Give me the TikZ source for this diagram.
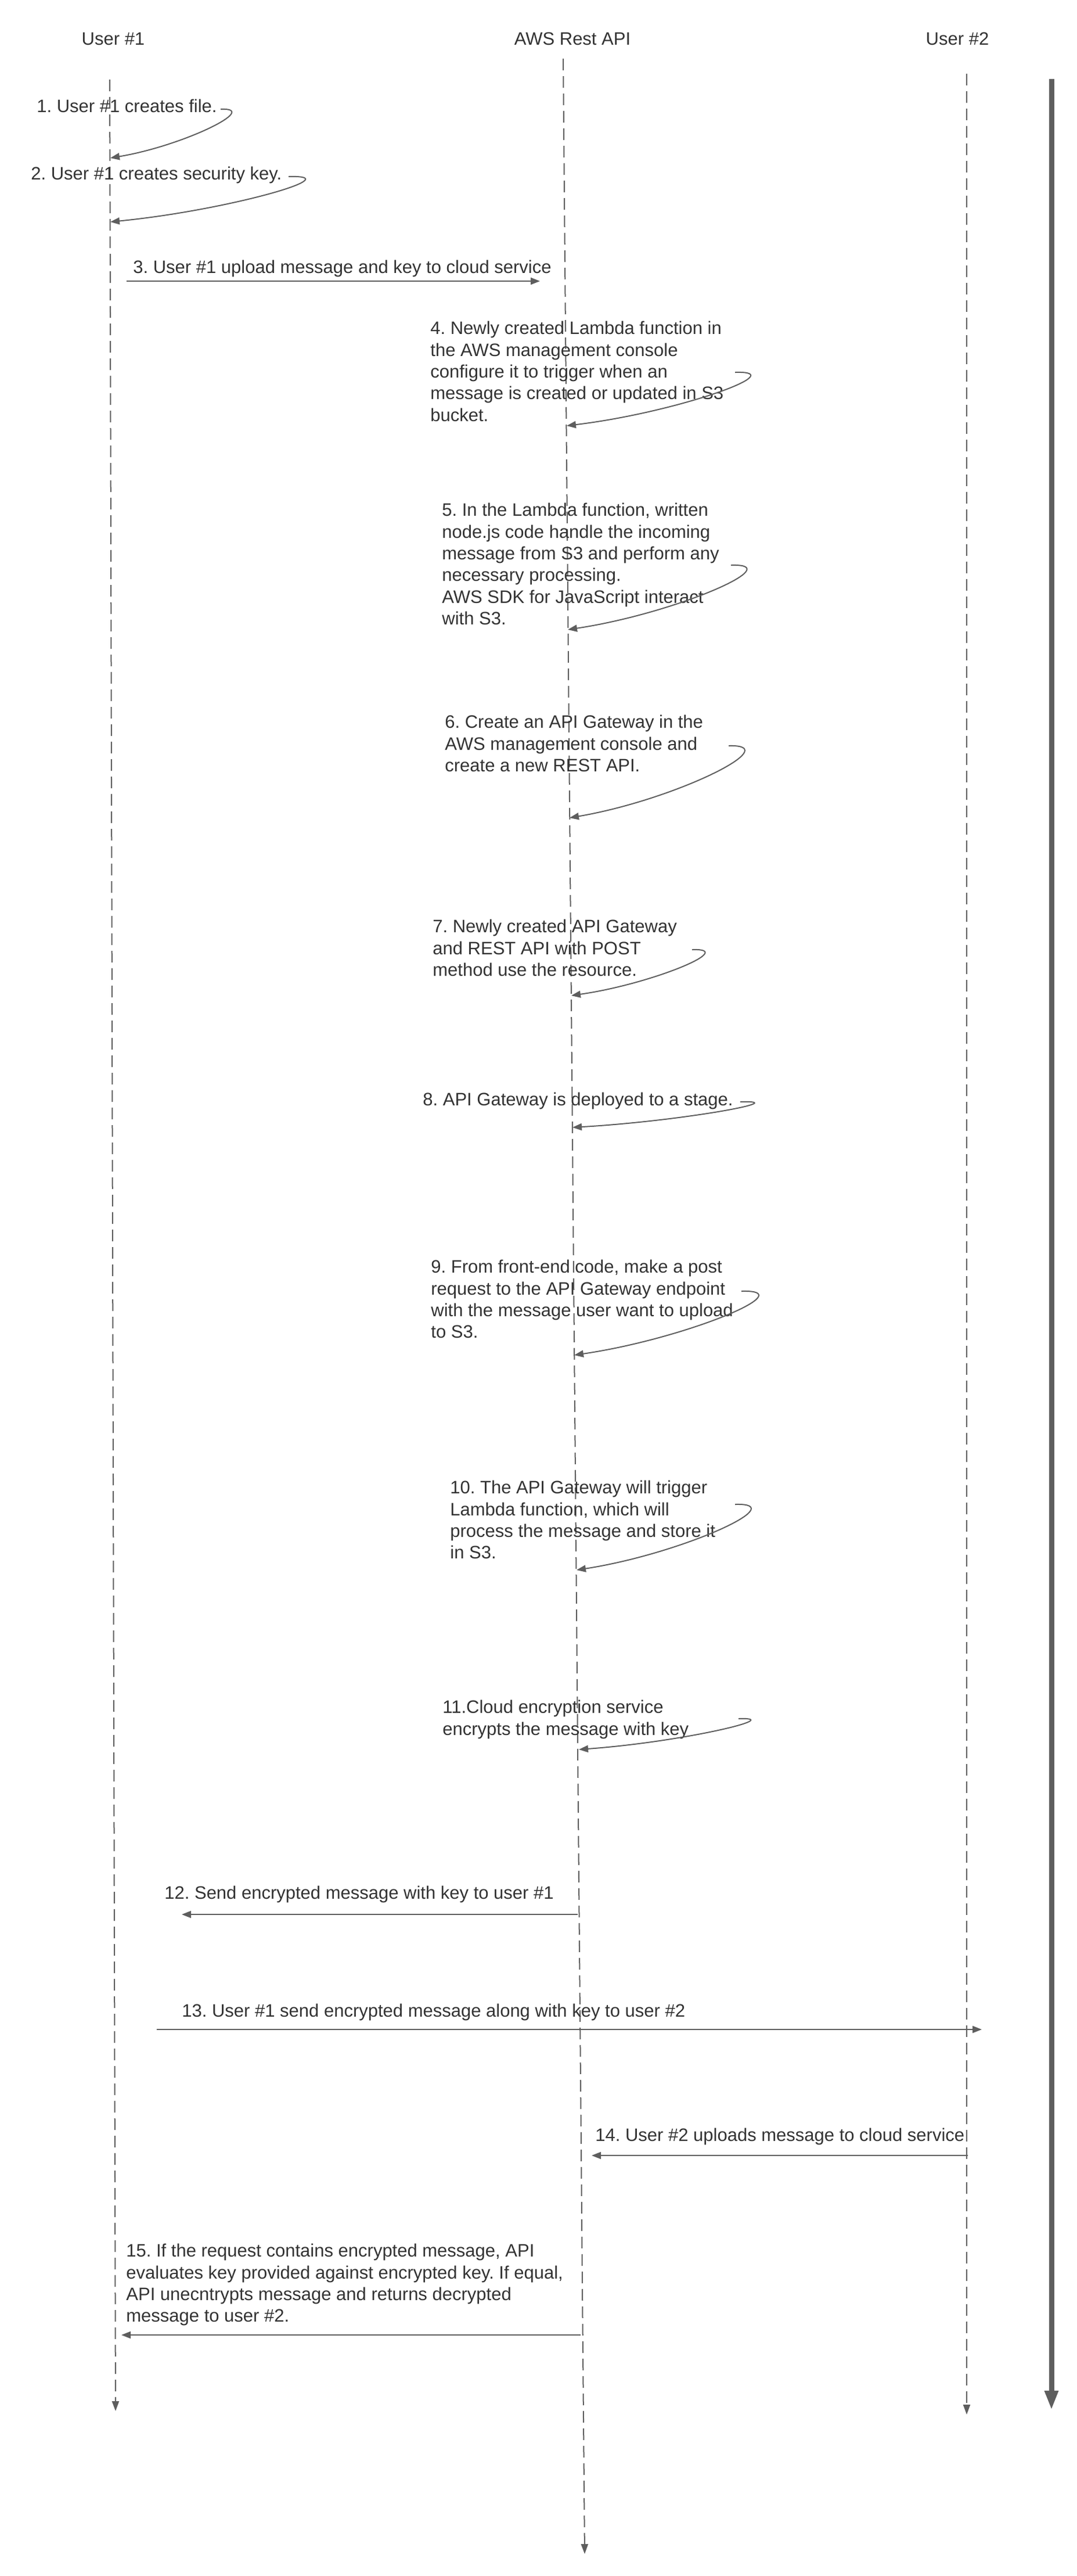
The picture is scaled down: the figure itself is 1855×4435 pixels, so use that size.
\documentclass[tikz,border=0pt]{standalone}
\usepackage{fontspec}
\setmainfont{Liberation Sans}
\usetikzlibrary{arrows.meta}
\definecolor{lc}{HTML}{5E5E5E}
\definecolor{tc}{HTML}{333333}
\frenchspacing
\begin{document}
\frenchspacing
\begin{tikzpicture}[x=0.5pt,y=-0.5pt,
  txt/.style={font=\fontsize{15.5pt}{18.65pt}\selectfont\frenchspacing, text=tc, inner sep=0pt, align=left, anchor=north west},
  one/.style={font=\fontsize{15.5pt}{18.65pt}\selectfont\frenchspacing, text=tc, inner sep=0pt, anchor=base west},
  hdr/.style={font=\fontsize{15.5pt}{18.65pt}\selectfont, text=tc, inner sep=0pt, anchor=base},
  life/.style={draw=lc, line width=1pt, dash pattern=on 10pt off 5pt, -{Triangle[length=8.5pt,width=6pt]}},
  msg/.style={draw=lc, line width=1pt, -{Triangle[length=8pt,width=6pt]}},
  bar/.style={draw=lc, line width=4.5pt, -{Triangle[length=16.5pt,width=11pt]}}]
\useasboundingbox (0,0) rectangle (1855,4435);
\fill[white] (0,0) rectangle (1855,4435);

% headers
\node[hdr] (h1) at (195,77) {User \#1};
\node[hdr] (h2) at (986,77) {AWS Rest API};
\node[hdr] (h3) at (1649,77) {User \#2};

% lifelines
\coordinate (u1top) at (189,137);
\coordinate (u1bot) at (199,4151);
\coordinate (awtop) at (970,101);
\coordinate (awbot) at (1007,4397);
\coordinate (u2top) at (1665,127);
\coordinate (u2bot) at (1665,4157);
\coordinate (bartop) at (1811,136);
\coordinate (barbot) at (1811,4149);
\draw[life] (u1top) -- (u1bot);
\draw[life] (awtop) -- (awbot);
\draw[life] (u2top) -- (u2bot);
\draw[bar] (bartop) -- (barbot);

% texts
\node[one] (t1) at (63,193) {1. User \#1 creates file.};
\node[one] (t2) at (53,309) {2. User \#1 creates security key.};
\node[one] (t3) at (229,470) {3. User \#1 upload message and key to cloud service};
\node[txt] (t4) at (741,553) {4. Newly created Lambda function in\\the AWS management console\\configure it to trigger when an\\message is created or updated in S3\\bucket.};
\node[txt] (t5) at (761,866) {5. In the Lambda function, written\\node.js code handle the incoming\\message from S3 and perform any\\necessary processing.\\AWS SDK for JavaScript interact\\with S3.};
\node[txt] (t6) at (766,1231) {6. Create an API Gateway in the\\AWS management console and\\create a new REST API.};
\node[txt] (t7) at (745,1583) {7. Newly created API Gateway\\and REST API with POST\\method use the resource.};
\node[one] (t8) at (728,1903) {8. API Gateway is deployed to a stage.};
\node[txt] (t9) at (742,2169) {9. From front-end code, make a post\\request to the API Gateway endpoint\\with the message user want to upload\\to S3.};
\node[txt] (t10) at (775,2549) {10. The API Gateway will trigger\\Lambda function, which will\\process the message and store it\\in S3.};
\node[txt] (t11) at (762,2927) {11.Cloud encryption service\\encrypts the message with key};
\node[one] (t12) at (283,3269) {12. Send encrypted message with key to user \#1};
\node[one] (t13) at (313,3472) {13. User \#1 send encrypted message along with key to user \#2};
\node[one] (t14) at (1025,3686) {14. User \#2 uploads message to cloud service};
\node[txt] (t15) at (217,3863) {15. If the request contains encrypted message, API\\evaluates key provided against encrypted key. If equal,\\API unecntrypts message and returns decrypted\\message to user \#2.};

% self messages
\coordinate (s1) at (380,188);  \coordinate (e1) at (190,272);
\coordinate (s2) at (497,304);  \coordinate (e2) at (190,382);
\coordinate (s4) at (1266,641); \coordinate (e4) at (976,733);
\coordinate (s5) at (1259,973); \coordinate (e5) at (978,1084);
\coordinate (s6) at (1255,1284); \coordinate (e6) at (981,1408);
\coordinate (s7) at (1192,1635); \coordinate (e7) at (984,1714);
\coordinate (s8) at (1275,1897); \coordinate (e8) at (986,1941);
\coordinate (s9) at (1277,2223); \coordinate (e9) at (989,2333);
\coordinate (s10) at (1266,2590); \coordinate (e10) at (993,2703);
\coordinate (s11) at (1272,2959); \coordinate (e11) at (997,3012);
\draw[msg] (s1) .. controls (450,185) and (316,251) .. (e1);
\draw[msg] (s2) .. controls (605,301) and (393,362) .. (e2);
\draw[msg] (s4) .. controls (1367,638) and (1167,710) .. (e4);
\draw[msg] (s5) .. controls (1360,970) and (1164,1056) .. (e5);
\draw[msg] (s6) .. controls (1356,1281) and (1163,1377) .. (e6);
\draw[msg] (s7) .. controls (1272,1632) and (1123,1694) .. (e7);
\draw[msg] (s8) .. controls (1369,1894) and (1176,1930) .. (e8);
\draw[msg] (s9) .. controls (1385,2220) and (1180,2305) .. (e9);
\draw[msg] (s10) .. controls (1367,2587) and (1174,2675) .. (e10);
\draw[msg] (s11) .. controls (1356,2956) and (1176,2999) .. (e11);

% horizontal messages
\coordinate (a3s) at (218,484);  \coordinate (a3e) at (930,484);
\coordinate (a12s) at (995,3296); \coordinate (a12e) at (313,3296);
\coordinate (a13s) at (270,3494); \coordinate (a13e) at (1691,3494);
\coordinate (a14s) at (1667,3711); \coordinate (a14e) at (1019,3711);
\coordinate (a15s) at (1000,4020); \coordinate (a15e) at (209,4020);
\draw[msg] (a3s) -- (a3e);
\draw[msg] (a12s) -- (a12e);
\draw[msg] (a13s) -- (a13e);
\draw[msg] (a14s) -- (a14e);
\draw[msg] (a15s) -- (a15e);
\end{tikzpicture}
\end{document}
